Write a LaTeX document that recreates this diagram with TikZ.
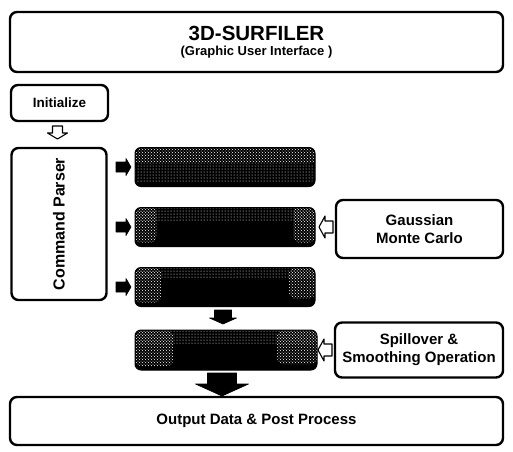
\documentclass[tikz,border=0pt]{standalone}
\usepackage{fontspec}
\setmainfont{Liberation Sans}
\usetikzlibrary{patterns,calc}
\newcommand{\blockarrow}[7]{% style, tail, angle, length, shaft, head width, head length
  \path[#1, shift={(#2)}, rotate=#3] (0,-#5/2) -- (#4-#7,-#5/2) -- (#4-#7,-#6/2) -- (#4,0)
    -- (#4-#7,#6/2) -- (#4-#7,#5/2) -- (0,#5/2) -- cycle;}
\begin{document}
\begin{tikzpicture}[x=1pt,y=-1pt,
  box/.style={draw, line width=2.4pt, rounded corners=7pt, fill=white,
    font=\bfseries, inner sep=0pt, outer sep=0pt, align=center},
  bar/.style={fill=black, draw=black, line width=1pt, rounded corners=6pt,
    minimum width=180pt, minimum height=39pt, inner sep=0pt, outer sep=0pt},
  dotsw/.style={pattern=crosshatch dots, pattern color=white},
  lightw/.style={pattern=dots, pattern color=white},
  solidarrow/.style={fill=black, draw=black, line width=0.6pt, line join=round},
  openarrow/.style={draw=black, fill=white, line width=1.1pt, line join=round}
]
\useasboundingbox (0,0) rectangle (513,451);

% main boxes
\node[box, minimum width=493pt, minimum height=60pt] (top) at (256.5,42)
  {{\fontsize{20.5}{22}\selectfont 3D-SURFILER}\\[3pt]{\fontsize{13}{14}\selectfont (Graphic User Interface )}};
\node[box, minimum width=97pt, minimum height=36pt, font=\bfseries\fontsize{13.5}{15}\selectfont] (init) at (59.5,103) {Initialize};
\node[box, rotate=90, minimum width=152pt, minimum height=95pt, font=\bfseries\fontsize{16}{18}\selectfont] (cp) at (59,224) {Command Parser};
\node[box, minimum width=167pt, minimum height=58pt, font=\bfseries\fontsize{15}{18}\selectfont] (gauss) at (419.5,229) {Gaussian\\Monte Carlo};
\node[box, minimum width=168pt, minimum height=55pt, font=\bfseries\fontsize{15}{18}\selectfont] (spill) at (419,350) {Spillover \&\\Smoothing Operation};
\node[box, minimum width=493pt, minimum height=48pt, font=\bfseries\fontsize{15}{17}\selectfont] (out) at (256.5,421) {Output Data \& Post Process};

% dark bars
\node[bar, path picture={
    \fill[dotsw] ($(path picture bounding box.north west)$) rectangle ($(path picture bounding box.east)+(0,-3)$);
    \fill[lightw] ($(path picture bounding box.west)+(0,-3)$) rectangle ($(path picture bounding box.south east)+(0,-4)$);
  }] (b1) at (225,167) {};
\node[bar, path picture={
    \fill[lightw] ($(path picture bounding box.north west)$) rectangle ($(path picture bounding box.north east)+(0,14)$);
    \fill[dotsw] ($(path picture bounding box.north west)$) rectangle ($(path picture bounding box.south west)+(22,-4)$);
    \fill[dotsw] ($(path picture bounding box.north east)+(-22,0)$) rectangle ($(path picture bounding box.south east)+(0,-4)$);
  }] (b2) at (225,227) {};
\node[bar, path picture={
    \fill[lightw] ($(path picture bounding box.north west)$) rectangle ($(path picture bounding box.north east)+(0,12)$);
    \fill[dotsw] ($(path picture bounding box.north west)$) rectangle ($(path picture bounding box.south west)+(26,-4)$);
    \fill[dotsw] ($(path picture bounding box.north east)+(-26,0)$) rectangle ($(path picture bounding box.south east)+(0,-8)$);
  }] (b3) at (225,287) {};
\node[bar, minimum width=182pt, minimum height=40pt, path picture={
    \fill[lightw] ($(path picture bounding box.north west)$) rectangle ($(path picture bounding box.north east)+(0,14)$);
    \fill[dotsw] ($(path picture bounding box.north west)$) rectangle ($(path picture bounding box.south west)+(38,-4)$);
    \fill[dotsw] ($(path picture bounding box.north east)+(-40,0)$) rectangle ($(path picture bounding box.south east)+(0,-6)$);
  }] (b4) at (226,350) {};

% block arrows (tail point relative to named nodes)
\blockarrow{openarrow}{$(init.south)+(-2,5)$}{270}{13}{10}{20}{6}
\foreach \b in {b1,b2,b3}{
  \blockarrow{solidarrow}{$(\b.west)+(-19,0)$}{0}{15}{10}{17}{5}
}
\blockarrow{solidarrow}{$(b3.south)+(-2,3.5)$}{270}{14}{17}{27}{6}
\blockarrow{openarrow}{$(gauss.west |- b2.east)+(-3,0)$}{180}{14}{12}{22}{6}
\blockarrow{openarrow}{$(spill.west |- b4.east)+(-3,0)$}{180}{14}{12}{22}{6}
\blockarrow{solidarrow}{$(b4.south)+(-4,3)$}{270}{23}{29}{53}{12}
\end{tikzpicture}
\end{document}
